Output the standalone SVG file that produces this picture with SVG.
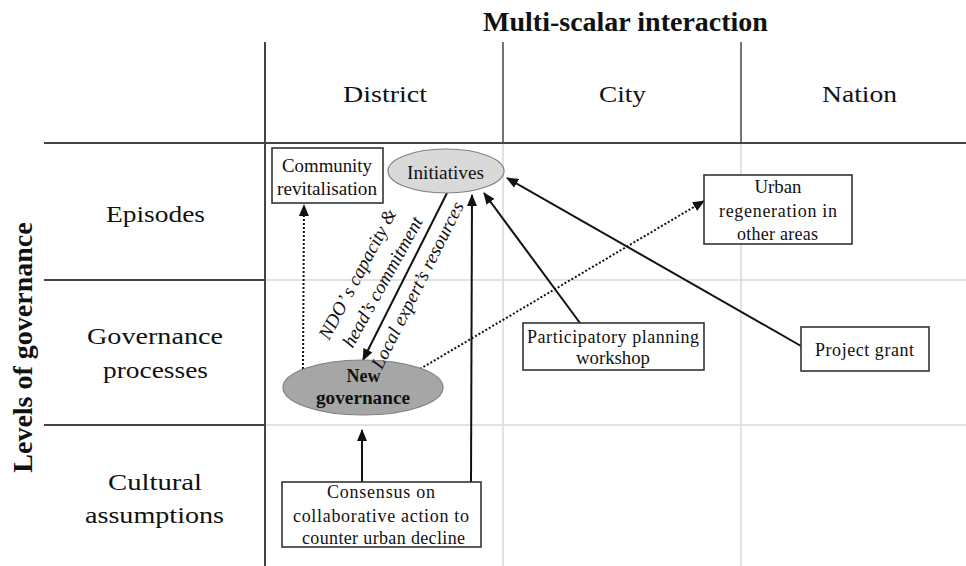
<svg xmlns="http://www.w3.org/2000/svg" width="966" height="566" viewBox="0 0 966 566">
<style>
  .t { font-family: "Liberation Serif", "Times New Roman", serif; fill: #111; }
  .big { font-size: 24px; }
  .bx { font-size: 18px; }
  .it { font-size: 19px; font-style: italic; }
  .bold { font-weight: bold; }
  .grid-d { stroke: #444; stroke-width: 2; fill: none; }
  .grid-l { stroke: #d9d9d9; stroke-width: 1.5; fill: none; }
  .box { fill: #fff; stroke: #333; stroke-width: 1.6; }
  .conn { stroke: #111; stroke-width: 2; fill: none; }
  .dot { stroke: #111; stroke-width: 2; stroke-dasharray: 2 2; fill: none; }
</style>
<defs>
  <marker id="ah" markerUnits="userSpaceOnUse" markerWidth="12" markerHeight="10" refX="11" refY="5" orient="auto">
    <path d="M0,0 L12,5 L0,10 z" fill="#111"/>
  </marker>
</defs>
<rect x="0" y="0" width="966" height="566" fill="#fff"/>

<g id="grid">
  <line class="grid-l" x1="503" y1="143" x2="503" y2="566"/>
  <line class="grid-l" x1="741" y1="143" x2="741" y2="566"/>
  <line class="grid-l" x1="266" y1="280" x2="966" y2="280"/>
  <line class="grid-l" x1="266" y1="425" x2="966" y2="425"/>
  <line class="grid-d" x1="44" y1="143" x2="966" y2="143"/>
  <line class="grid-d" x1="44" y1="280" x2="266" y2="280"/>
  <line class="grid-d" x1="44" y1="425" x2="266" y2="425"/>
  <line class="grid-d" x1="265" y1="42" x2="265" y2="566"/>
  <line class="grid-d" style="stroke-width:1.5" x1="503" y1="42" x2="503" y2="143"/>
  <line class="grid-d" style="stroke-width:1.5" x1="741" y1="42" x2="741" y2="143"/>
</g>

<g id="headers">
  <text class="t bold" font-size="28" x="625.5" y="31" text-anchor="middle">Multi-scalar interaction</text>
  <text class="t bold" font-size="28" transform="translate(32,347.5) rotate(-90)" text-anchor="middle">Levels of governance</text>
  <text class="t big" x="385" y="102" text-anchor="middle" textLength="84" lengthAdjust="spacingAndGlyphs">District</text>
  <text class="t big" x="622.5" y="102" text-anchor="middle" textLength="47" lengthAdjust="spacingAndGlyphs">City</text>
  <text class="t big" x="859.5" y="102" text-anchor="middle" textLength="75" lengthAdjust="spacingAndGlyphs">Nation</text>
  <text class="t big" x="155.5" y="222" text-anchor="middle" textLength="99" lengthAdjust="spacingAndGlyphs">Episodes</text>
  <text class="t big" x="155" y="344" text-anchor="middle" textLength="136" lengthAdjust="spacingAndGlyphs">Governance</text>
  <text class="t big" x="155.5" y="378" text-anchor="middle" textLength="105" lengthAdjust="spacingAndGlyphs">processes</text>
  <text class="t big" x="155" y="490" text-anchor="middle" textLength="94" lengthAdjust="spacingAndGlyphs">Cultural</text>
  <text class="t big" x="154.5" y="523" text-anchor="middle" textLength="139" lengthAdjust="spacingAndGlyphs">assumptions</text>
</g>

<g id="connectors">
  <line class="dot" x1="303" y1="369" x2="304" y2="205" marker-end="url(#ah)"/>
  <line class="conn" x1="447" y1="193" x2="363" y2="360" marker-end="url(#ah)"/>
  <line class="conn" x1="471" y1="482" x2="472" y2="195" marker-end="url(#ah)"/>
  <line class="conn" x1="362" y1="482" x2="362" y2="430" marker-end="url(#ah)"/>
  <line class="conn" x1="580" y1="323" x2="484" y2="193" marker-end="url(#ah)"/>
  <line class="conn" x1="801" y1="346" x2="507" y2="178" marker-end="url(#ah)"/>
  <line class="dot" x1="420" y1="369" x2="704" y2="201" marker-end="url(#ah)"/>
</g>

<g id="community">
  <rect class="box" x="272" y="148" width="111" height="55"/>
  <text class="t bx" x="327" y="172" text-anchor="middle" textLength="90" lengthAdjust="spacingAndGlyphs">Community</text>
  <text class="t bx" x="327" y="195" text-anchor="middle" textLength="100" lengthAdjust="spacingAndGlyphs">revitalisation</text>
</g>

<g id="initiatives">
  <ellipse cx="446" cy="171" rx="58" ry="22" fill="#d9d9d9" stroke="#7f7f7f" stroke-width="1.2"/>
  <text class="t bx" x="445.5" y="179" text-anchor="middle" textLength="77" lengthAdjust="spacingAndGlyphs">Initiatives</text>
</g>

<g id="new-governance">
  <ellipse cx="363" cy="387.5" rx="80" ry="27.5" fill="#a6a6a6" stroke="#7f7f7f" stroke-width="1.2"/>
  <text class="t bx bold" x="363.5" y="382" text-anchor="middle">New</text>
  <text class="t bx bold" x="363" y="404" text-anchor="middle" textLength="94" lengthAdjust="spacingAndGlyphs">governance</text>
</g>

<g id="consensus">
  <rect class="box" x="282" y="482" width="199" height="65"/>
  <text class="t bx" x="381" y="498" text-anchor="middle" textLength="108" lengthAdjust="spacing">Consensus on</text>
  <text class="t bx" x="381" y="522" text-anchor="middle" textLength="176" lengthAdjust="spacing">collaborative action to</text>
  <text class="t bx" x="383.5" y="544" text-anchor="middle" textLength="163" lengthAdjust="spacing">counter urban decline</text>
</g>

<g id="urban">
  <rect class="box" x="704" y="175" width="148" height="69"/>
  <text class="t bx" x="778" y="193" text-anchor="middle" textLength="47" lengthAdjust="spacingAndGlyphs">Urban</text>
  <text class="t bx" x="778" y="217" text-anchor="middle" textLength="118" lengthAdjust="spacing">regeneration in</text>
  <text class="t bx" x="777.5" y="240" text-anchor="middle" textLength="81" lengthAdjust="spacing">other areas</text>
</g>

<g id="participatory">
  <rect class="box" x="523" y="323" width="181" height="47"/>
  <text class="t bx" x="613" y="343" text-anchor="middle" textLength="172" lengthAdjust="spacing">Participatory planning</text>
  <text class="t bx" x="613" y="364" text-anchor="middle" textLength="74" lengthAdjust="spacingAndGlyphs">workshop</text>
</g>

<g id="project-grant">
  <rect class="box" x="801" y="327" width="128" height="44"/>
  <text class="t bx" x="864.5" y="356" text-anchor="middle" textLength="99" lengthAdjust="spacing">Project grant</text>
</g>

<g id="connector-labels">
  <text class="t it" transform="translate(363,277) rotate(-62)" text-anchor="middle">NDO’ s capacity &amp;</text>
  <text class="t it" transform="translate(388,285) rotate(-61)" text-anchor="middle">head’s commitment</text>
  <text class="t it" transform="translate(423,288) rotate(-63.4)" text-anchor="middle">Local expert’s resources</text>
</g>
</svg>
